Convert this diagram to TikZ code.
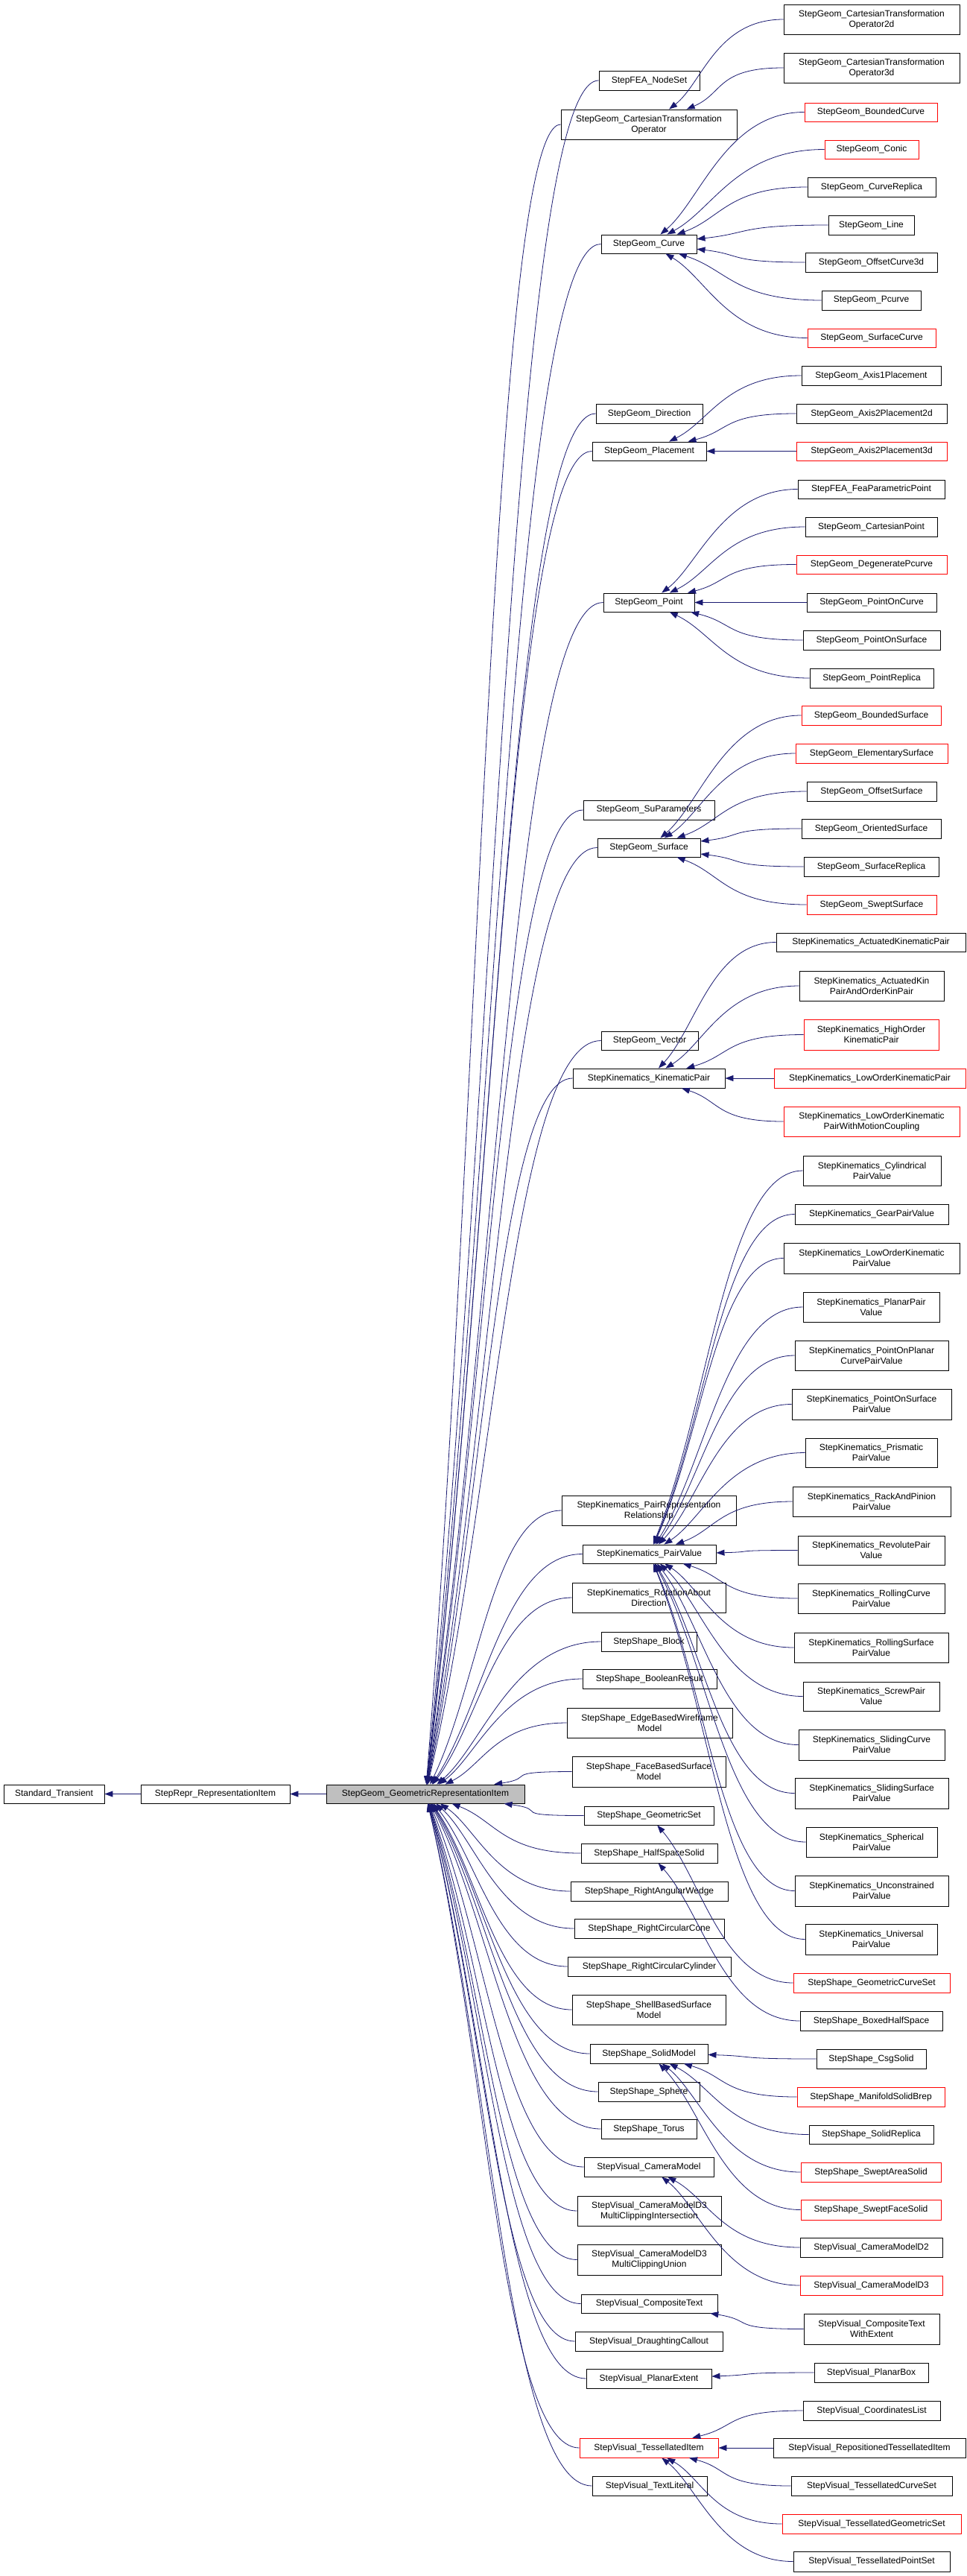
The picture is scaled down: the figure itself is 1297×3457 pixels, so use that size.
\documentclass[tikz,border=0pt]{standalone}
\usepackage{fontspec}
\setmainfont{Liberation Sans}
\usetikzlibrary{arrows.meta,calc}
\definecolor{edgeblue}{HTML}{191970}
\newcommand\mybox[7][]{\node[box,#1,minimum width={(#4-#3)*0.5},minimum height={(#6-#5)*0.5}] (#2) at ({(#3+#4)/2},{-(#5+#6)/2}) {#7};}
\newcommand\lnk[2]{\draw[edge] let \p1=(#1.west), \p2=(#2.center), \n1={atan2(\y1-\y2,\x1-\x2)}, \n2={max(abs(\x1-\x2)*0.5,1)}, \n3={max(abs(\y1-\y2)*0.4,abs(\x1-\x2)*0.3)} in (#1.west) .. controls +(-\n2,0) and ($(#2.\n1)+(\n1:\n3)$) .. (#2.\n1);}
\begin{document}
\begin{tikzpicture}[x=0.5pt,y=0.5pt,
  box/.style={draw=black,fill=white,line width=0.45pt,inner sep=0pt,align=center,font=\fontsize{6}{7}\selectfont},
  redbox/.style={draw=red},
  edge/.style={draw=edgeblue,line width=0.4pt,-{Triangle[length=5.5pt,width=4pt]}}]
\useasboundingbox (0,0) rectangle (1297,-3457);
% left
\mybox{st}{5}{140}{2395}{2420}{Standard\_Transient}
\mybox{ri}{189}{389}{2395}{2420}{StepRepr\_RepresentationItem}
\mybox[fill={rgb,255:red,191;green,191;blue,191}]{gri}{438}{704}{2395}{2420}{StepGeom\_GeometricRepresentationItem}
% column 3
\mybox{nodeset}{804}{939}{95}{121}{StepFEA\_NodeSet}
\mybox{cto}{753}{989}{147}{187}{StepGeom\_CartesianTransformation\\Operator}
\mybox{curve}{807}{935}{315}{340}{StepGeom\_Curve}
\mybox{direction}{800}{943}{542}{568}{StepGeom\_Direction}
\mybox{placement}{795}{948}{593}{618}{StepGeom\_Placement}
\mybox{point}{810}{932}{796}{821}{StepGeom\_Point}
\mybox{suparam}{783}{959}{1074}{1100}{StepGeom\_SuParameters}
\mybox{surface}{802}{940}{1125}{1150}{StepGeom\_Surface}
\mybox{vector}{807}{937}{1384}{1409}{StepGeom\_Vector}
\mybox{kinpair}{769}{973}{1434}{1460}{StepKinematics\_KinematicPair}
\mybox{prr}{754}{988}{2007}{2047}{StepKinematics\_PairRepresentation\\Relationship}
\mybox{pairvalue}{782}{961}{2073}{2098}{StepKinematics\_PairValue}
\mybox{rotation}{768}{974}{2124}{2164}{StepKinematics\_RotationAbout\\Direction}
\mybox{block}{807}{935}{2190}{2216}{StepShape\_Block}
\mybox{boolean}{782}{962}{2240}{2266}{StepShape\_BooleanResult}
\mybox{edgewire}{761}{983}{2292}{2332}{StepShape\_EdgeBasedWireframe\\Model}
\mybox{facebased}{768}{974}{2357}{2398}{StepShape\_FaceBasedSurface\\Model}
\mybox{geomset}{784}{958}{2424}{2449}{StepShape\_GeometricSet}
\mybox{halfspace}{780}{963}{2474}{2500}{StepShape\_HalfSpaceSolid}
\mybox{wedge}{766}{977}{2525}{2551}{StepShape\_RightAngularWedge}
\mybox{cone}{771}{972}{2575}{2601}{StepShape\_RightCircularCone}
\mybox{cylinder}{762}{981}{2626}{2652}{StepShape\_RightCircularCylinder}
\mybox{shellbased}{768}{974}{2677}{2717}{StepShape\_ShellBasedSurface\\Model}
\mybox{solidmodel}{792}{950}{2743}{2769}{StepShape\_SolidModel}
\mybox{sphere}{803}{939}{2794}{2820}{StepShape\_Sphere}
\mybox{torus}{807}{935}{2844}{2870}{StepShape\_Torus}
\mybox{cameramodel}{784}{958}{2895}{2921}{StepVisual\_CameraModel}
\mybox{mci}{775}{968}{2947}{2987}{StepVisual\_CameraModelD3\\MultiClippingIntersection}
\mybox{mcu}{775}{968}{3012}{3053}{StepVisual\_CameraModelD3\\MultiClippingUnion}
\mybox{comptext}{780}{963}{3079}{3104}{StepVisual\_CompositeText}
\mybox{draughting}{772}{970}{3129}{3155}{StepVisual\_DraughtingCallout}
\mybox{planarext}{787}{955}{3179}{3205}{StepVisual\_PlanarExtent}
\mybox[redbox]{tessitem}{778}{964}{3272}{3298}{StepVisual\_TessellatedItem}
\mybox{textliteral}{795}{949}{3323}{3349}{StepVisual\_TextLiteral}
% right column
\mybox{ctoa}{1052}{1288}{6}{46}{StepGeom\_CartesianTransformation\\Operator2d}
\mybox{ctob}{1052}{1288}{71}{111}{StepGeom\_CartesianTransformation\\Operator3d}
\mybox[redbox]{boundedcurve}{1080}{1258}{138}{163}{StepGeom\_BoundedCurve}
\mybox[redbox]{conic}{1107}{1233}{188}{213}{StepGeom\_Conic}
\mybox{curvereplica}{1084}{1256}{238}{264}{StepGeom\_CurveReplica}
\mybox{gline}{1112}{1227}{289}{315}{StepGeom\_Line}
\mybox{offsetcurve}{1081}{1258}{339}{365}{StepGeom\_OffsetCurve3d}
\mybox{pcurve}{1103}{1236}{390}{416}{StepGeom\_Pcurve}
\mybox[redbox]{surfacecurve}{1084}{1256}{441}{466}{StepGeom\_SurfaceCurve}
\mybox{axisa}{1076}{1263}{491}{517}{StepGeom\_Axis1Placement}
\mybox{axisb}{1069}{1271}{542}{568}{StepGeom\_Axis2Placement2d}
\mybox[redbox]{axisc}{1069}{1271}{593}{618}{StepGeom\_Axis2Placement3d}
\mybox{feapp}{1071}{1268}{644}{669}{StepFEA\_FeaParametricPoint}
\mybox{cartpoint}{1081}{1258}{694}{720}{StepGeom\_CartesianPoint}
\mybox[redbox]{degpcurve}{1069}{1271}{745}{770}{StepGeom\_DegeneratePcurve}
\mybox{poc}{1083}{1257}{796}{821}{StepGeom\_PointOnCurve}
\mybox{pos}{1078}{1262}{846}{872}{StepGeom\_PointOnSurface}
\mybox{pointreplica}{1087}{1253}{897}{923}{StepGeom\_PointReplica}
\mybox[redbox]{boundedsurf}{1076}{1263}{947}{973}{StepGeom\_BoundedSurface}
\mybox[redbox]{elemsurf}{1068}{1272}{998}{1024}{StepGeom\_ElementarySurface}
\mybox{offsetsurf}{1083}{1257}{1049}{1075}{StepGeom\_OffsetSurface}
\mybox{orientedsurf}{1076}{1263}{1099}{1125}{StepGeom\_OrientedSurface}
\mybox{surfreplica}{1079}{1260}{1150}{1176}{StepGeom\_SurfaceReplica}
\mybox[redbox]{sweptsurf}{1083}{1257}{1201}{1227}{StepGeom\_SweptSurface}
\mybox{actuated}{1042}{1296}{1252}{1277}{StepKinematics\_ActuatedKinematicPair}
\mybox{actuatedkin}{1073}{1267}{1303}{1343}{StepKinematics\_ActuatedKin\\PairAndOrderKinPair}
\mybox[redbox]{highorder}{1079}{1260}{1368}{1409}{StepKinematics\_HighOrder\\KinematicPair}
\mybox[redbox]{loworder}{1039}{1296}{1434}{1460}{StepKinematics\_LowOrderKinematicPair}
\mybox[redbox]{lowordermc}{1052}{1288}{1485}{1525}{StepKinematics\_LowOrderKinematic\\PairWithMotionCoupling}
\mybox{cyl}{1078}{1263}{1551}{1591}{StepKinematics\_Cylindrical\\PairValue}
\mybox{gear}{1067}{1273}{1616}{1643}{StepKinematics\_GearPairValue}
\mybox{lopv}{1052}{1288}{1668}{1709}{StepKinematics\_LowOrderKinematic\\PairValue}
\mybox{planar}{1078}{1261}{1734}{1774}{StepKinematics\_PlanarPair\\Value}
\mybox{popc}{1067}{1273}{1799}{1839}{StepKinematics\_PointOnPlanar\\CurvePairValue}
\mybox{pospv}{1063}{1277}{1864}{1905}{StepKinematics\_PointOnSurface\\PairValue}
\mybox{prismatic}{1081}{1258}{1930}{1969}{StepKinematics\_Prismatic\\PairValue}
\mybox{rack}{1064}{1276}{1995}{2035}{StepKinematics\_RackAndPinion\\PairValue}
\mybox{revolute}{1071}{1268}{2061}{2100}{StepKinematics\_RevolutePair\\Value}
\mybox{rollcurve}{1071}{1268}{2125}{2165}{StepKinematics\_RollingCurve\\PairValue}
\mybox{rollsurf}{1066}{1273}{2191}{2231}{StepKinematics\_RollingSurface\\PairValue}
\mybox{screw}{1078}{1261}{2257}{2296}{StepKinematics\_ScrewPair\\Value}
\mybox{slidcurve}{1072}{1268}{2321}{2362}{StepKinematics\_SlidingCurve\\PairValue}
\mybox{slidsurf}{1067}{1273}{2386}{2427}{StepKinematics\_SlidingSurface\\PairValue}
\mybox{spherical}{1082}{1258}{2452}{2492}{StepKinematics\_Spherical\\PairValue}
\mybox{unconstrained}{1067}{1273}{2517}{2558}{StepKinematics\_Unconstrained\\PairValue}
\mybox{universal}{1081}{1258}{2582}{2623}{StepKinematics\_Universal\\PairValue}
\mybox[redbox]{gcs}{1065}{1275}{2648}{2674}{StepShape\_GeometricCurveSet}
\mybox{boxed}{1074}{1265}{2699}{2725}{StepShape\_BoxedHalfSpace}
\mybox{csg}{1096}{1243}{2750}{2776}{StepShape\_CsgSolid}
\mybox[redbox]{manifold}{1070}{1268}{2801}{2827}{StepShape\_ManifoldSolidBrep}
\mybox{solidreplica}{1086}{1253}{2852}{2877}{StepShape\_SolidReplica}
\mybox[redbox]{sweptarea}{1075}{1263}{2902}{2928}{StepShape\_SweptAreaSolid}
\mybox[redbox]{sweptface}{1075}{1263}{2952}{2979}{StepShape\_SweptFaceSolid}
\mybox{cmda}{1074}{1265}{3003}{3029}{StepVisual\_CameraModelD2}
\mybox[redbox]{cmdb}{1074}{1265}{3054}{3080}{StepVisual\_CameraModelD3}
\mybox{ctwe}{1079}{1261}{3105}{3146}{StepVisual\_CompositeText\\WithExtent}
\mybox{planarbox}{1093}{1246}{3171}{3197}{StepVisual\_PlanarBox}
\mybox{coordlist}{1078}{1262}{3222}{3248}{StepVisual\_CoordinatesList}
\mybox{reposit}{1038}{1296}{3272}{3298}{StepVisual\_RepositionedTessellatedItem}
\mybox{tesscurve}{1062}{1278}{3323}{3349}{StepVisual\_TessellatedCurveSet}
\mybox[redbox]{tessgeom}{1050}{1290}{3374}{3400}{StepVisual\_TessellatedGeometricSet}
\mybox{tesspoint}{1065}{1275}{3424}{3451}{StepVisual\_TessellatedPointSet}
% edges
\lnk{ri}{st}
\lnk{gri}{ri}
\foreach \c in {nodeset,cto,curve,direction,placement,point,suparam,surface,vector,kinpair,prr,pairvalue,rotation,block,boolean,edgewire,facebased,geomset,halfspace,wedge,cone,cylinder,shellbased,solidmodel,sphere,torus,cameramodel,mci,mcu,comptext,draughting,planarext,tessitem,textliteral} {\lnk{\c}{gri}}
\foreach \c in {ctoa,ctob} {\lnk{\c}{cto}}
\foreach \c in {boundedcurve,conic,curvereplica,gline,offsetcurve,pcurve,surfacecurve} {\lnk{\c}{curve}}
\foreach \c in {axisa,axisb,axisc} {\lnk{\c}{placement}}
\foreach \c in {feapp,cartpoint,degpcurve,poc,pos,pointreplica} {\lnk{\c}{point}}
\foreach \c in {boundedsurf,elemsurf,offsetsurf,orientedsurf,surfreplica,sweptsurf} {\lnk{\c}{surface}}
\foreach \c in {actuated,actuatedkin,highorder,loworder,lowordermc} {\lnk{\c}{kinpair}}
\foreach \c in {cyl,gear,lopv,planar,popc,pospv,prismatic,rack,revolute,rollcurve,rollsurf,screw,slidcurve,slidsurf,spherical,unconstrained,universal} {\lnk{\c}{pairvalue}}
\lnk{gcs}{geomset}
\lnk{boxed}{halfspace}
\foreach \c in {csg,manifold,solidreplica,sweptarea,sweptface} {\lnk{\c}{solidmodel}}
\foreach \c in {cmda,cmdb} {\lnk{\c}{cameramodel}}
\lnk{ctwe}{comptext}
\lnk{planarbox}{planarext}
\foreach \c in {coordlist,reposit,tesscurve,tessgeom,tesspoint} {\lnk{\c}{tessitem}}
\end{tikzpicture}
\end{document}
